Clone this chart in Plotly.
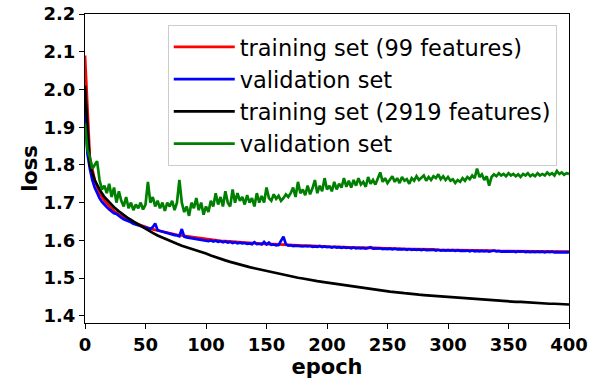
import plotly.graph_objects as go

# ---------------- data ----------------
epochs_step4 = list(range(0, 401, 4))
epochs_step2 = list(range(0, 401, 2))

train_99 = [
    2.090, 1.820, 1.760, 1.725, 1.705, 1.690, 1.678, 1.668, 1.660, 1.653,
    1.647, 1.642, 1.637, 1.633, 1.629, 1.626, 1.623, 1.620, 1.617, 1.615,
    1.613, 1.611, 1.609, 1.607, 1.605, 1.604, 1.602, 1.601, 1.599, 1.598,
    1.597, 1.596, 1.595, 1.594, 1.593, 1.593, 1.592, 1.591, 1.590, 1.590,
    1.589, 1.589, 1.588, 1.587, 1.587, 1.586, 1.586, 1.585, 1.585, 1.584,
    1.584, 1.583, 1.583, 1.582, 1.582, 1.581, 1.581, 1.581, 1.580, 1.580,
    1.580, 1.579, 1.579, 1.579, 1.578, 1.578, 1.578, 1.577, 1.577, 1.577,
    1.576, 1.576, 1.576, 1.575, 1.575, 1.575, 1.575, 1.574, 1.574, 1.574,
    1.574, 1.573, 1.573, 1.573, 1.573, 1.572, 1.572, 1.572, 1.572, 1.572,
    1.571, 1.571, 1.571, 1.571, 1.571, 1.570, 1.570, 1.570, 1.570, 1.570,
    1.570,
]

train_2919 = [
    2.010, 1.800, 1.760, 1.735, 1.715, 1.700, 1.688, 1.677, 1.667, 1.658,
    1.650, 1.642, 1.635, 1.627, 1.620, 1.613, 1.607, 1.601, 1.596, 1.591,
    1.586, 1.582, 1.577, 1.573, 1.569, 1.565, 1.560, 1.555, 1.551, 1.547,
    1.543, 1.539, 1.536, 1.532, 1.529, 1.526, 1.523, 1.520, 1.517, 1.514,
    1.511, 1.509, 1.506, 1.503, 1.501, 1.499, 1.496, 1.494, 1.492, 1.490,
    1.488, 1.486, 1.484, 1.482, 1.480, 1.478, 1.476, 1.474, 1.472, 1.471,
    1.469, 1.467, 1.466, 1.464, 1.463, 1.461, 1.460, 1.459, 1.457, 1.456,
    1.455, 1.454, 1.453, 1.452, 1.451, 1.450, 1.449, 1.448, 1.447, 1.446,
    1.445, 1.444, 1.443, 1.442, 1.441, 1.440, 1.440, 1.439, 1.438, 1.437,
    1.437, 1.436, 1.435, 1.434, 1.434, 1.433, 1.432, 1.432, 1.431, 1.431,
    1.430,
]

valid_99 = [
    1.950, 1.830, 1.790, 1.760, 1.740, 1.725, 1.712, 1.702, 1.694, 1.688,   # 0-18
    1.682, 1.676, 1.672, 1.670, 1.664, 1.660, 1.656, 1.654, 1.650, 1.648,   # 20-38
    1.644, 1.642, 1.640, 1.637, 1.636, 1.632, 1.632, 1.630, 1.635, 1.645,   # 40-58
    1.627, 1.625, 1.624, 1.620, 1.620, 1.617, 1.616, 1.614, 1.613, 1.611,   # 60-78
    1.630, 1.610, 1.608, 1.607, 1.606, 1.605, 1.604, 1.603, 1.602, 1.601,   # 80-98
    1.600, 1.598, 1.600, 1.597, 1.599, 1.596, 1.598, 1.595, 1.597, 1.594,   # 100-118
    1.596, 1.593, 1.595, 1.592, 1.594, 1.592, 1.593, 1.591, 1.592, 1.590,   # 120-138
    1.595, 1.590, 1.591, 1.589, 1.596, 1.589, 1.594, 1.588, 1.589, 1.587,   # 140-158
    1.588, 1.600, 1.610, 1.590, 1.586, 1.587, 1.585, 1.586, 1.585, 1.586,   # 160-178
    1.584, 1.585, 1.584, 1.585, 1.583, 1.584, 1.583, 1.585, 1.582, 1.584,   # 180-198
    1.582, 1.583, 1.581, 1.583, 1.581, 1.582, 1.580, 1.582, 1.580, 1.581,   # 200-218
    1.579, 1.581, 1.579, 1.580, 1.579, 1.580, 1.578, 1.580, 1.582, 1.578,   # 220-238
    1.579, 1.578, 1.579, 1.577, 1.578, 1.577, 1.578, 1.576, 1.578, 1.576,   # 240-258
    1.577, 1.576, 1.577, 1.575, 1.577, 1.575, 1.576, 1.575, 1.576, 1.574,   # 260-278
    1.576, 1.574, 1.575, 1.574, 1.575, 1.573, 1.575, 1.573, 1.574, 1.573,   # 280-298
    1.574, 1.573, 1.574, 1.572, 1.574, 1.572, 1.573, 1.572, 1.573, 1.571,   # 300-318
    1.573, 1.571, 1.572, 1.571, 1.572, 1.571, 1.572, 1.570, 1.572, 1.573,   # 320-338
    1.571, 1.572, 1.570, 1.571, 1.570, 1.571, 1.570, 1.571, 1.569, 1.571,   # 340-358
    1.570, 1.571, 1.569, 1.570, 1.569, 1.570, 1.569, 1.570, 1.569, 1.570,   # 360-378
    1.568, 1.570, 1.569, 1.570, 1.568, 1.569, 1.568, 1.569, 1.568, 1.569,   # 380-398
    1.568,                                                                 # 400
]

valid_2919 = [
    1.910, 1.840, 1.820, 1.790, 1.800, 1.810, 1.760, 1.735, 1.745, 1.725,   # 0-18
    1.750, 1.715, 1.740, 1.700, 1.730, 1.705, 1.690, 1.715, 1.685, 1.700,   # 20-38
    1.680, 1.695, 1.685, 1.700, 1.682, 1.695, 1.755, 1.700, 1.715, 1.690,   # 40-58
    1.705, 1.685, 1.700, 1.678, 1.700, 1.690, 1.705, 1.680, 1.700, 1.760,   # 60-78
    1.700, 1.675, 1.690, 1.665, 1.700, 1.685, 1.712, 1.680, 1.700, 1.668,   # 80-98
    1.690, 1.675, 1.705, 1.690, 1.725, 1.695, 1.715, 1.690, 1.730, 1.700,   # 100-118
    1.690, 1.735, 1.700, 1.725, 1.705, 1.715, 1.695, 1.720, 1.700, 1.712,   # 120-138
    1.690, 1.725, 1.700, 1.718, 1.700, 1.740, 1.712, 1.705, 1.722, 1.710,   # 140-158
    1.718, 1.705, 1.712, 1.722, 1.715, 1.725, 1.740, 1.715, 1.755, 1.725,   # 160-178
    1.735, 1.720, 1.745, 1.722, 1.738, 1.760, 1.725, 1.745, 1.730, 1.765,   # 180-198
    1.735, 1.745, 1.730, 1.755, 1.735, 1.750, 1.740, 1.765, 1.742, 1.758,   # 200-218
    1.740, 1.760, 1.745, 1.765, 1.748, 1.755, 1.742, 1.768, 1.750, 1.760,   # 220-238
    1.748, 1.765, 1.780, 1.755, 1.765, 1.752, 1.760, 1.770, 1.755, 1.765,   # 240-258
    1.752, 1.768, 1.758, 1.762, 1.750, 1.765, 1.758, 1.770, 1.760, 1.765,   # 260-278
    1.772, 1.758, 1.768, 1.760, 1.770, 1.765, 1.775, 1.762, 1.770, 1.760,   # 280-298
    1.768, 1.758, 1.762, 1.752, 1.760, 1.755, 1.765, 1.758, 1.768, 1.762,   # 300-318
    1.772, 1.765, 1.790, 1.768, 1.775, 1.760, 1.770, 1.745, 1.768, 1.775,   # 320-338
    1.770, 1.778, 1.772, 1.776, 1.770, 1.778, 1.772, 1.776, 1.770, 1.775,   # 340-358
    1.768, 1.776, 1.772, 1.778, 1.770, 1.775, 1.770, 1.778, 1.772, 1.776,   # 360-378
    1.772, 1.780, 1.774, 1.778, 1.772, 1.784, 1.776, 1.780, 1.774, 1.778,   # 380-398
    1.776,                                                                 # 400
]

x_ticks = [0, 50, 100, 150, 200, 250, 300, 350, 400]
y_ticks = [1.4, 1.5, 1.6, 1.7, 1.8, 1.9, 2.0, 2.1, 2.2]

series_names = [
    "training set (99 features)",
    "validation set",
    "training set (2919 features)",
    "validation set",
]
series_colors = ["#ff0000", "#0000ff", "#000000", "#008000"]

# ---------------- figure ----------------
fig = go.Figure()
series = [
    (epochs_step4, train_99),
    (epochs_step2, valid_99),
    (epochs_step4, train_2919),
    (epochs_step2, valid_2919),
]
for i, ((xs, ys), name, color) in enumerate(zip(series, series_names, series_colors)):
    fig.add_trace(go.Scatter(
        x=xs, y=ys, mode="lines", name=name, legendgroup=f"g{i}",
        line=dict(color=color, width=2.7),
    ))

tick_font = dict(family="DejaVu Sans", size=18, color="black", weight="bold")
title_font = dict(family="DejaVu Sans", size=21, color="black", weight="bold")

fig.update_layout(
    width=604, height=382,
    margin=dict(l=85, r=35, t=14, b=59, autoexpand=False),
    paper_bgcolor="white", plot_bgcolor="white",
    showlegend=True,
    legend=dict(
        x=0.171, y=0.965, xanchor="left", yanchor="top",
        font=dict(family="DejaVu Sans", size=22.5, color="black"),
        bgcolor="rgba(255,255,255,0.8)",
        bordercolor="#cccccc", borderwidth=1,
        itemwidth=61,
        tracegroupgap=0,
    ),
    xaxis=dict(
        range=[0, 400], tickvals=x_ticks, ticktext=[str(v) for v in x_ticks],
        showgrid=False, zeroline=False, automargin=False,
        showline=True, linecolor="black", linewidth=1.2, mirror=True,
        ticks="outside", ticklen=5, tickcolor="black", tickwidth=1,
        tickfont=tick_font, ticklabeloverflow="allow",
        title=dict(text="epoch", font=title_font, standoff=2),
    ),
    yaxis=dict(
        range=[1.381, 2.2], tickvals=y_ticks,
        ticktext=[f"{v:.1f}" for v in y_ticks],
        showgrid=False, zeroline=False, automargin=False,
        showline=True, linecolor="black", linewidth=1.2, mirror=True,
        ticks="outside", ticklen=5, tickcolor="black", tickwidth=1,
        tickfont=tick_font, ticklabeloverflow="allow",
        title=dict(text="loss", font=title_font, standoff=0),
    ),
)

# remove the default 8px page margin so the figure fills the window exactly
fig.write_html(
    "out.html",
    config={"displayModeBar": False},
    post_script="document.body.style.margin='0';document.body.style.overflow='hidden';",
)
